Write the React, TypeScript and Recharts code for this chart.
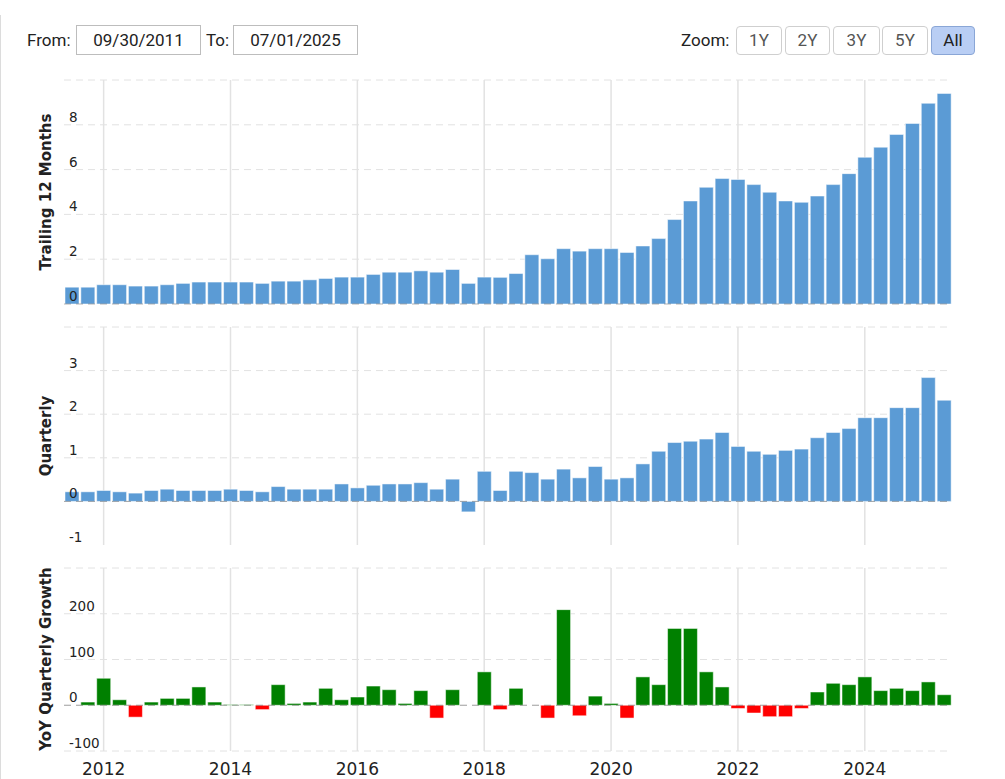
import React from 'react';
import { BarChart, Bar, XAxis, YAxis, CartesianGrid, ReferenceLine, Cell } from 'recharts';

// quarter ends, Jun 2011 .. Mar 2025
const quarters = [
  '2011-06', '2011-09', '2011-12',
  '2012-03', '2012-06', '2012-09', '2012-12',
  '2013-03', '2013-06', '2013-09', '2013-12',
  '2014-03', '2014-06', '2014-09', '2014-12',
  '2015-03', '2015-06', '2015-09', '2015-12',
  '2016-03', '2016-06', '2016-09', '2016-12',
  '2017-03', '2017-06', '2017-09', '2017-12',
  '2018-03', '2018-06', '2018-09', '2018-12',
  '2019-03', '2019-06', '2019-09', '2019-12',
  '2020-03', '2020-06', '2020-09', '2020-12',
  '2021-03', '2021-06', '2021-09', '2021-12',
  '2022-03', '2022-06', '2022-09', '2022-12',
  '2023-03', '2023-06', '2023-09', '2023-12',
  '2024-03', '2024-06', '2024-09', '2024-12',
  '2025-03',
];

const ttm = [
  0.75, 0.75, 0.86, 0.86, 0.8, 0.8, 0.86, 0.92, 0.98, 0.98, 0.98, 0.98, 0.92, 1.02,
  1.02, 1.08, 1.14, 1.2, 1.2, 1.32, 1.42, 1.42, 1.48, 1.42, 1.54, 0.92, 1.2, 1.19,
  1.36, 2.2, 2.02, 2.47, 2.36, 2.47, 2.47, 2.3, 2.59, 2.92, 3.77, 4.6, 5.21, 5.6,
  5.56, 5.33, 4.99, 4.6, 4.54, 4.82, 5.33, 5.82, 6.55, 7.0, 7.57, 8.06, 8.96, 9.4,
];

const quarterly = [
  0.22, 0.22, 0.25, 0.22, 0.19, 0.25, 0.28, 0.25, 0.25, 0.25, 0.28, 0.25, 0.22, 0.34,
  0.28, 0.28, 0.28, 0.4, 0.31, 0.37, 0.4, 0.4, 0.43, 0.28, 0.51, -0.24, 0.69, 0.25,
  0.69, 0.66, 0.51, 0.74, 0.54, 0.8, 0.51, 0.54, 0.86, 1.15, 1.35, 1.38, 1.43, 1.58,
  1.26, 1.15, 1.08, 1.17, 1.2, 1.46, 1.58, 1.67, 1.92, 1.92, 2.15, 2.15, 2.84, 2.32,
];

const yoyGrowth: (number | null)[] = [
  null, 7, 59, 12, -26, 7, 15, 15, 40, 7, 1.5, 1.5, -9.5, 45,
  4, 7, 37, 12, 18, 42, 34, 4, 32, -28, 34, null, 73, -9.5,
  37, null, -28, 209, -23, 20, 4, -28, 62, 45, 168, 168, 73, 40,
  -7, -17, -25, -25, -7, 29, 48, 45, 62, 32, 37, 32, 51, 23,
];

const yearTicks = ['2011-12', '2013-12', '2015-12', '2017-12', '2019-12', '2021-12', '2023-12'];
const yearLabels = ['2012', '2014', '2016', '2018', '2020', '2022', '2024'];

const ttmTicks = [0, 2, 4, 6, 8, 10];
const ttmLabels = [0, 2, 4, 6, 8];
const qtrTicks = [-1, 0, 1, 2, 3, 4];
const qtrLabels = [-1, 0, 1, 2, 3];
const yoyTicks = [-100, 0, 100, 200, 300];
const yoyLabels = [-100, 0, 100, 200];

const data = quarters.map((q, i) => ({ q, ttm: ttm[i], qtr: quarterly[i], yoy: yoyGrowth[i] }));

const W = 1005;
const LEFT = 63;
const RIGHT = 53;
const BLUE = '#5b9bd5';
const FONT = '"DejaVu Sans", Verdana, sans-serif';

// value label drawn on top of the bars, at the reference line's y
const valueLabel = (v: number) => (props: any) => {
  const vb = props.viewBox || {};
  return (
    <text x={69} y={vb.y - 3} fontSize={13.5} fill="#222" fontFamily={FONT}>
      {v}
    </text>
  );
};

const xTick = (props: any) => {
  const { x, y, payload } = props;
  const idx = yearTicks.indexOf(payload.value);
  return (
    <text x={x} y={y + 24} textAnchor="middle" fontSize={17} fill="#222" fontFamily={FONT}>
      {idx >= 0 ? yearLabels[idx] : ''}
    </text>
  );
};

const noTick = () => <g />;

const Panel = ({ top, height, bottom, dataKey, domain, ticks, labels, showX, colored }: any) => (
  <div style={{ position: 'absolute', left: 0, top }}>
    <BarChart
      width={W}
      height={height}
      data={data}
      margin={{ top: 10, right: RIGHT, bottom, left: LEFT }}
      barCategoryGap={1}
    >
      <CartesianGrid vertical={false} stroke="#e2e2e2" strokeDasharray="7 5" syncWithTicks />
      <CartesianGrid horizontal={false} stroke="#e2e2e2" strokeWidth={1.5} syncWithTicks />
      <XAxis
        dataKey="q"
        ticks={yearTicks}
        interval={0}
        axisLine={false}
        tickLine={false}
        tickSize={0}
        tickMargin={0}
        height={showX ? 28 : 1}
        tick={showX ? xTick : noTick}
      />
      <YAxis width={1} domain={domain} ticks={ticks} axisLine={false} tickLine={false} tick={noTick} allowDataOverflow />
      <Bar dataKey={dataKey} fill={BLUE} stroke="#ffffff" strokeOpacity={0.5} strokeWidth={1} isAnimationActive={false}>
        {colored &&
          data.map((d, i) => <Cell key={i} fill={(d.yoy ?? 0) < 0 ? '#ff0000' : '#008000'} />)}
      </Bar>
      <ReferenceLine y={0} stroke="#555" strokeOpacity={0.45} strokeDasharray="7 5" />
      {labels.map((v: number) => (
        <ReferenceLine key={v} y={v} stroke="none" label={valueLabel(v)} />
      ))}
    </BarChart>
  </div>
);

const inputStyle: React.CSSProperties = {
  position: 'absolute',
  top: 25,
  width: 123,
  height: 28,
  border: '1px solid #bdbdbd',
  fontSize: 17,
  lineHeight: '28px',
  textAlign: 'center',
  color: '#222',
};

const labelStyle: React.CSSProperties = {
  position: 'absolute',
  top: 25,
  height: 30,
  lineHeight: '30px',
  fontSize: 17,
  color: '#222',
};

const zoomButtons = [
  { t: '1Y', l: 736, w: 46 },
  { t: '2Y', l: 785, w: 45 },
  { t: '3Y', l: 833, w: 47 },
  { t: '5Y', l: 882, w: 46 },
  { t: 'All', l: 931, w: 44 },
];

const titles = [
  { t: 'Trailing 12 Months', cy: 192 },
  { t: 'Quarterly', cy: 436 },
  { t: 'YoY Quarterly Growth', cy: 659 },
];

export default function App() {
  return (
    <div style={{ position: 'absolute', left: 0, top: 0, width: W, height: 779, background: '#fff', fontFamily: 'Roboto, sans-serif', overflow: 'hidden' }}>
      <div style={{ position: 'absolute', left: 0, top: 15, width: 1, height: 764, background: '#dcdcdc' }} />
      <div style={{ ...labelStyle, left: 27 }}>From:</div>
      <div style={{ ...inputStyle, left: 76 }}>09/30/2011</div>
      <div style={{ ...labelStyle, left: 206 }}>To:</div>
      <div style={{ ...inputStyle, left: 233 }}>07/01/2025</div>
      <div style={{ ...labelStyle, left: 681 }}>Zoom:</div>
      {zoomButtons.map((b) => (
        <div
          key={b.t}
          style={{
            position: 'absolute',
            left: b.l,
            top: 26,
            width: b.w - 2,
            height: 27,
            lineHeight: '27px',
            textAlign: 'center',
            fontSize: 17,
            color: b.t === 'All' ? '#222' : '#555',
            border: b.t === 'All' ? '1px solid #8aa6d6' : '1px solid #cfcfcf',
            background: b.t === 'All' ? '#b9cef4' : '#fff',
            borderRadius: 4,
          }}
        >
          {b.t}
        </div>
      ))}

      <Panel top={70} height={240} bottom={5} dataKey="ttm" domain={[0, 10]} ticks={ttmTicks} labels={ttmLabels} />
      <Panel top={317} height={235} bottom={6} dataKey="qtr" domain={[-1, 4]} ticks={qtrTicks} labels={qtrLabels} />
      <Panel top={558} height={221} bottom={0} dataKey="yoy" domain={[-100, 300]} ticks={yoyTicks} labels={yoyLabels} showX colored />

      <svg style={{ position: 'absolute', left: 0, top: 0 }} width={W} height={779} pointerEvents="none">
        {titles.map((t) => (
          <text
            key={t.t}
            x={45.5}
            y={t.cy}
            dy="0.35em"
            textAnchor="middle"
            transform={`rotate(-90, 45.5, ${t.cy})`}
            fontSize={15}
            fontWeight="bold"
            fill="#222"
            fontFamily={FONT}
          >
            {t.t}
          </text>
        ))}
      </svg>
    </div>
  );
}
